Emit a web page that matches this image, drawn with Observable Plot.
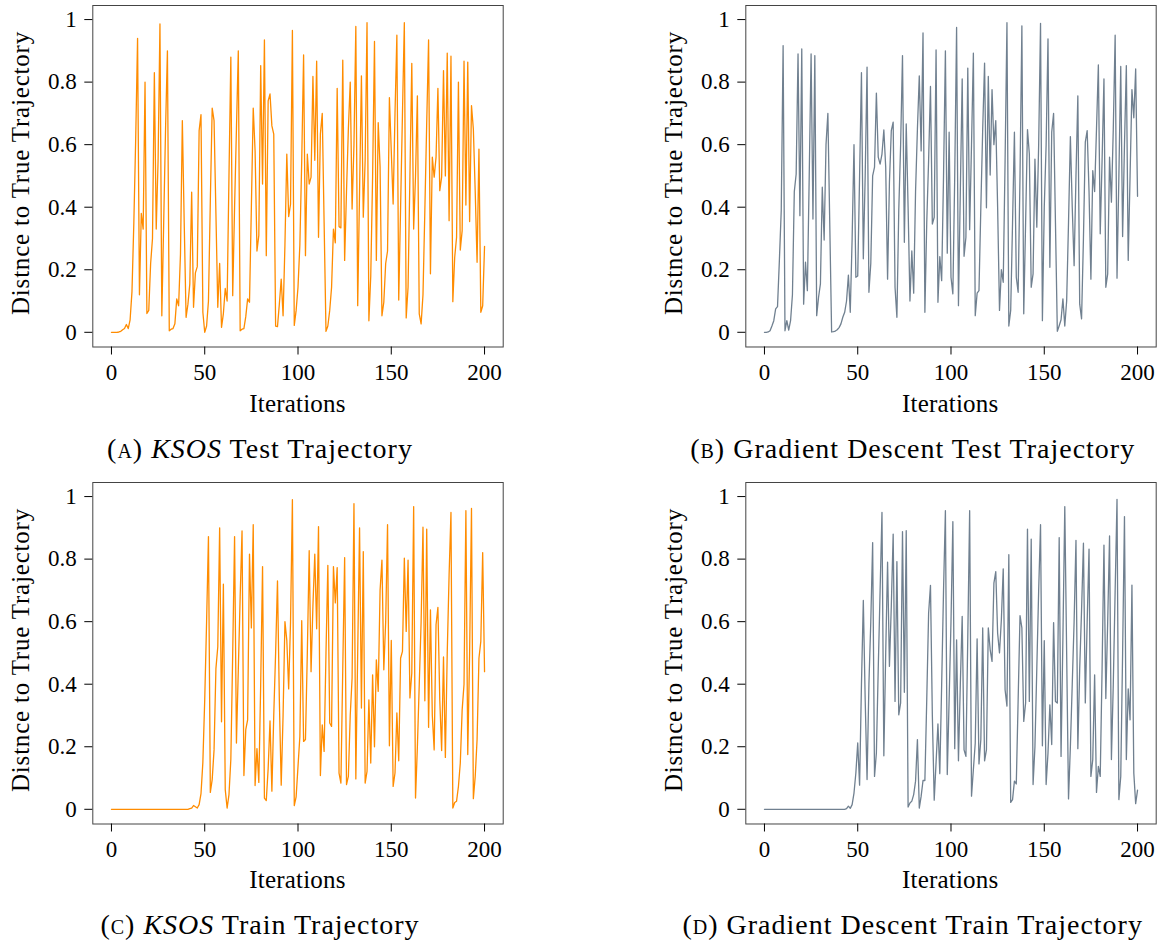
<!DOCTYPE html>
<html><head><meta charset="utf-8">
<script src="https://cdn.jsdelivr.net/npm/d3@7"></script>
<script src="https://cdn.jsdelivr.net/npm/@observablehq/plot@0.6"></script>
<style>
body{margin:0;background:#fff;}
#fig{position:relative;width:1161px;height:943px;overflow:hidden;font-family:"Liberation Serif","Times New Roman",serif;color:#000;}
#fig svg{position:absolute;overflow:visible;}
.ylab{position:absolute;white-space:nowrap;font-size:25px;letter-spacing:0.8px;line-height:1;transform:translate(-50%,-50%) rotate(-90deg);}
.xlab{position:absolute;white-space:nowrap;font-size:25px;letter-spacing:0.2px;line-height:1;transform:translateX(-50%);}
.cap{position:absolute;white-space:nowrap;font-size:28px;letter-spacing:1px;line-height:1;transform:translateX(-50%);}
.sc{font-variant:small-caps;}
</style></head><body><div id="fig"></div><script>
const iterations = d3.range(0, 201);
const xTicks = [0, 50, 100, 150, 200];
const xTickLabels = ["0", "50", "100", "150", "200"];
const yTicks = [0, 0.2, 0.4, 0.6, 0.8, 1];
const yTickLabels = ["0", "0.2", "0.4", "0.6", "0.8", "1"];
const xLabel = "Iterations";
const yLabel = "Distnce to True Trajectory";

const ksosTest = [
 0,0,0,0,0.001,0.003,0.008,0.012,0.025,0.012,
 0.04,0.13,0.35,0.62,0.94,0.12,0.38,0.33,0.80,0.06,
 0.07,0.22,0.30,0.83,0.33,0.55,0.986,0.053,0.35,0.65,
 0.90,0.005,0.01,0.012,0.027,0.107,0.085,0.25,0.677,0.35,
 0.048,0.09,0.155,0.448,0.08,0.19,0.21,0.645,0.696,0.064,
 0.0,0.02,0.1,0.42,0.717,0.677,0.38,0.08,0.22,0.016,
 0.06,0.14,0.1,0.5,0.88,0.117,0.4,0.65,0.90,0.005,
 0.01,0.012,0.05,0.107,0.096,0.4,0.717,0.58,0.26,0.31,
 0.853,0.474,0.935,0.245,0.74,0.762,0.66,0.634,0.02,0.018,
 0.09,0.17,0.053,0.28,0.57,0.37,0.41,0.965,0.022,0.07,
 0.144,0.28,0.55,0.887,0.245,0.57,0.474,0.496,0.818,0.55,
 0.867,0.304,0.634,0.70,0.35,0.003,0.02,0.07,0.144,0.33,
 0.286,0.78,0.338,0.334,0.87,0.23,0.45,0.65,0.80,0.394,
 0.6,0.978,0.085,0.45,0.82,0.368,0.55,0.99,0.037,0.18,
 0.5,0.93,0.23,0.67,0.53,0.053,0.096,0.22,0.26,0.75,
 0.58,0.41,0.7,0.95,0.103,0.4,0.7,0.99,0.046,0.144,
 0.5,0.86,0.33,0.5,0.756,0.059,0.027,0.12,0.39,0.67,
 0.935,0.187,0.56,0.496,0.56,0.78,0.453,0.496,0.837,0.50,
 0.893,0.357,0.883,0.098,0.24,0.304,0.80,0.263,0.325,0.867,
 0.407,0.864,0.354,0.725,0.65,0.45,0.224,0.586,0.064,0.085,
 0.275];

const gdTest = [
 0,0,0.001,0.005,0.02,0.037,0.075,0.082,0.23,0.39,
 0.917,0.005,0.037,0.007,0.037,0.12,0.45,0.506,0.89,0.373,
 0.906,0.09,0.224,0.133,0.5,0.89,0.362,0.885,0.053,0.112,
 0.155,0.464,0.295,0.6,0.70,0.35,0.001,0.002,0.004,0.008,
 0.015,0.027,0.048,0.064,0.1,0.183,0.064,0.3,0.60,0.176,
 0.18,0.5,0.83,0.235,0.5,0.848,0.128,0.22,0.50,0.528,
 0.765,0.56,0.538,0.57,0.647,0.528,0.17,0.48,0.645,0.672,
 0.144,0.048,0.39,0.6,0.885,0.288,0.666,0.4,0.10,0.26,
 0.125,0.45,0.65,0.82,0.58,0.957,0.064,0.35,0.55,0.786,
 0.346,0.368,0.903,0.096,0.242,0.165,0.5,0.90,0.253,0.64,
 0.176,0.123,0.5,0.975,0.085,0.45,0.81,0.243,0.304,0.845,
 0.328,0.6,0.893,0.053,0.125,0.133,0.4,0.65,0.861,0.398,
 0.818,0.503,0.776,0.60,0.677,0.4,0.07,0.2,0.16,0.55,
 0.99,0.02,0.07,0.35,0.64,0.176,0.128,0.5,0.98,0.059,
 0.35,0.648,0.57,0.144,0.187,0.554,0.336,0.6,0.988,0.037,
 0.4,0.6,0.938,0.208,0.64,0.70,0.35,0.003,0.021,0.04,
 0.107,0.02,0.1,0.35,0.626,0.4,0.213,0.5,0.756,0.09,
 0.043,0.3,0.608,0.645,0.45,0.17,0.517,0.45,0.65,0.855,
 0.315,0.55,0.81,0.144,0.187,0.56,0.416,0.65,0.95,0.173,
 0.5,0.85,0.306,0.6,0.853,0.23,0.5,0.776,0.686,0.842,
 0.435];

const ksosTrain = [
 0,0,0,0,0,0,0,0,0,0,
 0,0,0,0,0,0,0,0,0,0,
 0,0,0,0,0,0,0,0,0,0,
 0,0,0,0,0,0,0,0,0,0,
 0,0,0.002,0.004,0.012,0.008,0.004,0.015,0.05,0.15,
 0.35,0.6,0.872,0.054,0.095,0.19,0.45,0.52,0.90,0.28,
 0.72,0.063,0.004,0.047,0.16,0.5,0.872,0.212,0.446,0.68,
 0.89,0.108,0.255,0.286,0.816,0.58,0.91,0.076,0.194,0.086,
 0.4,0.776,0.036,0.028,0.13,0.283,0.058,0.3,0.5,0.73,
 0.35,0.077,0.3,0.60,0.54,0.385,0.6,0.99,0.012,0.04,
 0.137,0.233,0.603,0.217,0.223,0.5,0.827,0.44,0.65,0.816,
 0.577,0.904,0.108,0.27,0.185,0.5,0.78,0.276,0.265,0.776,
 0.66,0.773,0.116,0.084,0.45,0.805,0.079,0.105,0.3,0.42,
 0.977,0.097,0.5,0.90,0.324,0.824,0.084,0.121,0.35,0.148,
 0.43,0.2,0.478,0.377,0.70,0.797,0.446,0.6,0.91,0.203,
 0.54,0.073,0.116,0.308,0.155,0.483,0.505,0.803,0.569,0.797,
 0.356,0.436,0.968,0.036,0.2,0.4,0.6,0.902,0.347,0.896,
 0.262,0.638,0.3,0.19,0.59,0.646,0.35,0.188,0.487,0.166,
 0.5,0.75,0.949,0.004,0.022,0.026,0.073,0.148,0.318,0.40,
 0.955,0.175,0.5,0.962,0.034,0.105,0.223,0.483,0.537,0.821,
 0.44];

const gdTrain = [
 0,0,0,0,0,0,0,0,0,0,
 0,0,0,0,0,0,0,0,0,0,
 0,0,0,0,0,0,0,0,0,0,
 0,0,0,0,0,0,0,0,0,0,
 0,0,0,0,0.002,0.01,0.003,0.015,0.052,0.116,
 0.212,0.077,0.4,0.668,0.35,0.095,0.4,0.6,0.853,0.105,
 0.18,0.45,0.7,0.949,0.171,0.5,0.79,0.457,0.65,0.88,
 0.345,0.792,0.302,0.34,0.888,0.374,0.891,0.007,0.02,0.026,
 0.047,0.09,0.223,0.004,0.042,0.092,0.092,0.35,0.627,0.716,
 0.3,0.029,0.15,0.273,0.114,0.4,0.7,0.955,0.111,0.35,
 0.6,0.92,0.194,0.542,0.155,0.4,0.617,0.19,0.169,0.55,
 0.955,0.042,0.127,0.212,0.545,0.145,0.223,0.58,0.155,0.19,
 0.58,0.51,0.473,0.723,0.76,0.563,0.5,0.606,0.769,0.382,
 0.33,0.814,0.022,0.031,0.09,0.081,0.35,0.619,0.58,0.281,
 0.34,0.896,0.345,0.864,0.079,0.2,0.45,0.7,0.91,0.203,
 0.539,0.079,0.18,0.334,0.207,0.597,0.345,0.34,0.869,0.169,
 0.55,0.968,0.5,0.033,0.2,0.4,0.6,0.86,0.194,0.45,
 0.638,0.851,0.34,0.6,0.832,0.105,0.159,0.43,0.054,0.137,
 0.105,0.45,0.845,0.354,0.6,0.874,0.159,0.4,0.7,0.991,
 0.031,0.105,0.5,0.936,0.159,0.385,0.286,0.717,0.116,0.018,
 0.061];

const captions = [
  ['(a) ', 'KSOS', ' Test Trajectory'],
  ['(b) ', '', 'Gradient Descent Test Trajectory'],
  ['(c) ', 'KSOS', ' Train Trajectory'],
  ['(d) ', '', 'Gradient Descent Train Trajectory']
];
const series = [ksosTest, gdTest, ksosTrain, gdTrain];
const colors = ["#ff8c00", "#708090", "#ff8c00", "#708090"];

const fig = document.getElementById("fig");
const FRAME_W = 410.4, FRAME_H = 341.5, ML = 92.3;
const origins = [[0, 0], [652.7, 0], [0, 476.5], [652.7, 476.5]];

series.forEach((vals, k) => {
  const [ox, oy] = origins[k];
  const W = k % 2 === 0 ? 520 : 1161 - ox;
  const H = 400;
  const data = iterations.map((x, i) => ({x, y: vals[i]}));
  const svg = Plot.plot({
    width: W, height: H,
    marginLeft: ML, marginTop: 5, marginRight: W - ML - FRAME_W, marginBottom: H - 5 - FRAME_H,
    style: {fontFamily: '"Liberation Serif", serif', fontSize: "23px", background: "transparent", color: "#000"},
    x: {domain: [-10, 210]},
    y: {domain: [-0.047, 1.045]},
    marks: [
      Plot.line(data, {x: "x", y: "y", stroke: colors[k], strokeWidth: 1.3}),
      Plot.frame({stroke: "#444", strokeWidth: 1}),
      Plot.axisX({ticks: xTicks, tickSize: 8, tickPadding: 9, tickFormat: d => xTickLabels[xTicks.indexOf(d)], label: null, fontSize: 23}),
      Plot.axisY({ticks: yTicks, tickSize: 8, tickPadding: 8, tickFormat: d => yTickLabels[yTicks.indexOf(d)], label: null, fontSize: 23})
    ]
  });
  svg.style.left = ox + "px";
  svg.style.top = oy + "px";
  fig.appendChild(svg);

  const yl = document.createElement("div");
  yl.className = "ylab";
  yl.textContent = yLabel;
  yl.style.left = (ox + 20) + "px";
  yl.style.top = (oy + 173) + "px";
  fig.appendChild(yl);

  const xl = document.createElement("div");
  xl.className = "xlab";
  xl.textContent = xLabel;
  xl.style.left = (ox + ML + FRAME_W / 2) + "px";
  xl.style.top = (oy + 411.5 - 20.9) + "px";
  fig.appendChild(xl);

  const cp = document.createElement("div");
  cp.className = "cap";
  const [p, it, rest] = captions[k];
  cp.innerHTML = '<span class="sc">' + p + '</span>' + (it ? '<i>' + it + '</i>' : '') + rest;
  cp.style.left = (ox + 260) + "px";
  cp.style.top = (oy + 458.3 - 23.4) + "px";
  fig.appendChild(cp);
});
</script></body></html>
